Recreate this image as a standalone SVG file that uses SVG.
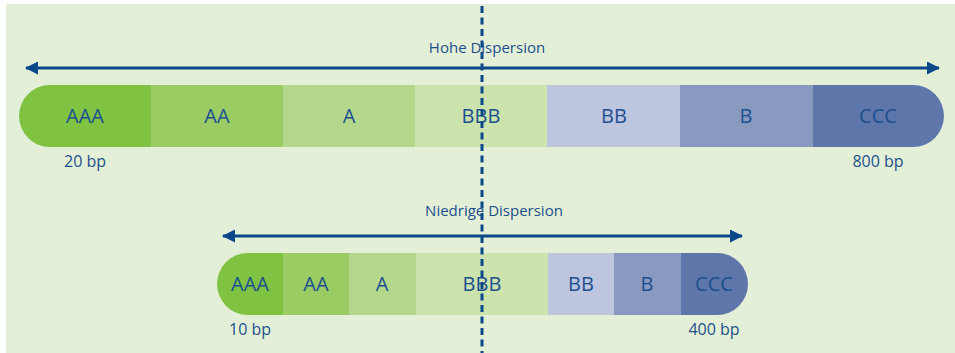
<svg xmlns="http://www.w3.org/2000/svg" width="955" height="353" viewBox="0 0 955 353">
<style>
.t{font-family:"Open Sans","Liberation Sans",sans-serif;fill:#1c4f8e;text-anchor:middle}
.seg{font-size:20px}
.bp{font-size:16px}
.ttl{font-size:15px}
.arr{stroke:#0a4889;stroke-width:3;fill:none}
</style>
<defs>
<marker id="ah" viewBox="0 0 13 13" refX="12" refY="6.5" markerWidth="13" markerHeight="13" markerUnits="userSpaceOnUse" orient="auto-start-reverse">
<path d="M0,0 L13,6.5 L0,13 Z" fill="#0a4889"/>
</marker>
</defs>
<rect width="955" height="353" fill="#ffffff"/>
<rect x="6" y="4" width="949" height="349" fill="#e3efd6"/>

<g id="top-bar">
<path d="M50,85 H151 V147 H50 A31,31 0 0 1 50,85 Z" fill="#80c241"/>
<rect x="151" y="85" width="132" height="62" fill="#9bcc64"/>
<rect x="283" y="85" width="132" height="62" fill="#b4d78c"/>
<rect x="415" y="85" width="132" height="62" fill="#cce3ae"/>
<rect x="547" y="85" width="133" height="62" fill="#bdc5df"/>
<rect x="680" y="85" width="133" height="62" fill="#8999c0"/>
<path d="M813,85 H913 A31,31 0 0 1 913,147 H813 Z" fill="#5e76aa"/>
<text class="t seg" x="85" y="123">AAA</text>
<text class="t seg" x="217" y="123">AA</text>
<text class="t seg" x="349" y="123">A</text>
<text class="t seg" x="481" y="123">BBB</text>
<text class="t seg" x="614" y="123">BB</text>
<text class="t seg" x="746" y="123">B</text>
<text class="t seg" x="878" y="123">CCC</text>
<text class="t bp" x="85" y="167">20 bp</text>
<text class="t bp" x="878" y="167">800 bp</text>
</g>

<g id="bottom-bar">
<path d="M248,253 H283 V315 H248 A31,31 0 0 1 248,253 Z" fill="#80c241"/>
<rect x="283" y="253" width="66" height="62" fill="#9bcc64"/>
<rect x="349" y="253" width="67" height="62" fill="#b4d78c"/>
<rect x="416" y="253" width="132" height="62" fill="#cce3ae"/>
<rect x="548" y="253" width="66" height="62" fill="#bdc5df"/>
<rect x="614" y="253" width="67" height="62" fill="#8999c0"/>
<path d="M681,253 H717 A31,31 0 0 1 717,315 H681 Z" fill="#5e76aa"/>
<text class="t seg" x="250" y="291">AAA</text>
<text class="t seg" x="316" y="291">AA</text>
<text class="t seg" x="382" y="291">A</text>
<text class="t seg" x="482" y="291">BBB</text>
<text class="t seg" x="581" y="291">BB</text>
<text class="t seg" x="647" y="291">B</text>
<text class="t seg" x="714" y="291">CCC</text>
<text class="t bp" x="250" y="335">10 bp</text>
<text class="t bp" x="714" y="335">400 bp</text>
</g>

<g id="labels">
<text class="t ttl" x="487" y="53">Hohe Dispersion</text>
<text class="t ttl" x="494" y="216">Niedrige Dispersion</text>
</g>

<g id="connectors">
<line class="arr" x1="26" y1="68" x2="939" y2="68" marker-start="url(#ah)" marker-end="url(#ah)"/>
<line class="arr" x1="223" y1="236" x2="742" y2="236" marker-start="url(#ah)" marker-end="url(#ah)"/>
<line x1="482" y1="6" x2="482" y2="353" stroke="#0a4889" stroke-width="3" stroke-dasharray="7 4.5"/>
</g>
</svg>
